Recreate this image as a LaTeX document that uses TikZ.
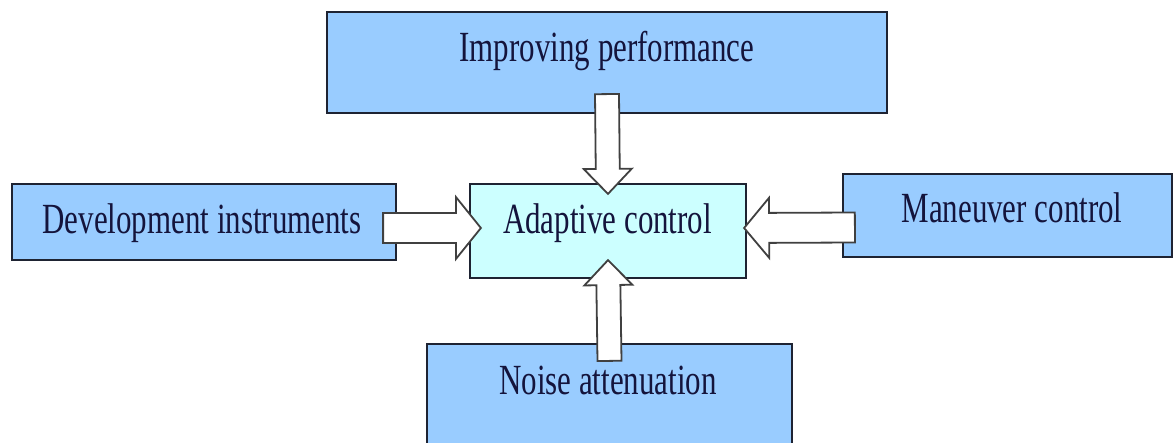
\documentclass[tikz,border=0pt]{standalone}
\usepackage{fontspec}
\setmainfont{Liberation Serif}
\usepackage{graphicx}
\usepackage{tikz}
\usetikzlibrary{calc}

\definecolor{boxblue}{RGB}{153,204,255}
\definecolor{boxcyan}{RGB}{204,255,255}
\definecolor{edge}{RGB}{30,35,50}
\definecolor{ink}{RGB}{20,20,60}

% text in the picture is narrow and tall
\newcommand{\squeezed}[1]{\scalebox{0.72}[1]{#1}}

% block arrow: #1 tail, #2 tip, #3 half shaft, #4 half head
\newcommand{\fatarrow}[4]{%
	\draw[fatarrow] (#2)
		-- ($($(#2)!25pt!(#1)$)!#4!90:(#2)$)
		-- ($($(#2)!25pt!(#1)$)!#3!90:(#2)$)
		-- ($(#1)!#3!90:(#2)$)
		-- ($(#1)!#3!-90:(#2)$)
		-- ($($(#2)!25pt!(#1)$)!#3!-90:(#2)$)
		-- ($($(#2)!25pt!(#1)$)!#4!-90:(#2)$)
		-- cycle;}

\begin{document}
\begin{tikzpicture}[x=1pt,y=-1pt,
	box/.style={draw=edge, line width=2.2pt, fill=boxblue, inner sep=0pt},
	boxtext/.style={anchor=base, text=ink, font=\fontsize{43pt}{50pt}\selectfont},
	fatarrow/.style={draw=black!75, fill=white, line width=1.8pt, line join=miter}]
	
	\useasboundingbox (0,0) rectangle (1176,443);
	
	% the five boxes, placed at pixel positions (y runs downward)
	\node[box, minimum width=560pt, minimum height=101pt] (perf) at (607,62.5) {};
	\node[box, minimum width=384pt, minimum height=76pt] (dev) at (204,222) {};
	\node[box, fill=boxcyan, minimum width=276pt, minimum height=94pt] (ctrl) at (608,231) {};
	\node[box, minimum width=329pt, minimum height=83pt] (manv) at (1007.5,215.5) {};
	\node[box, minimum width=365pt, minimum height=120pt] (noise) at (609.5,404) {};
	
	% texts, set on their baselines
	\node[boxtext] (perftext) at (607,62) {\squeezed{Improving performance}};
	\node[boxtext] (devtext) at (202,234) {\squeezed{Development instruments}};
	\node[boxtext] (ctrltext) at (607.5,234) {\squeezed{Adaptive control}};
	\node[boxtext] (manvtext) at (1012,223) {\squeezed{Maneuver control}};
	\node[boxtext] (noisetext) at (608,395) {\squeezed{Noise attenuation}};
	
	% arrows start inside the outer boxes and end inside the middle one
	\coordinate (perfout) at ($(perf.south)+(0,-20)$);
	\coordinate (ctrltop) at ($(ctrl.north)+(0,11)$);
	\coordinate (noiseout) at ($(noise.north)+(0,18)$);
	\coordinate (ctrlbot) at ($(ctrl.south)+(0,-19)$);
	\coordinate (devout) at ($(dev.east)+(-14,6)$);
	\coordinate (ctrlleft) at ($(ctrl.west)+(12,-3)$);
	\coordinate (manvout) at ($(manv.west)+(13,12)$);
	\coordinate (ctrlright) at ($(ctrl.east)+(-3,-3)$);
	
	\fatarrow{perfout}{ctrltop}{12pt}{24pt}
	\fatarrow{noiseout}{ctrlbot}{12pt}{24pt}
	\fatarrow{devout}{ctrlleft}{15pt}{31pt}
	\fatarrow{manvout}{ctrlright}{15pt}{30pt}
	
\end{tikzpicture}
\end{document}
